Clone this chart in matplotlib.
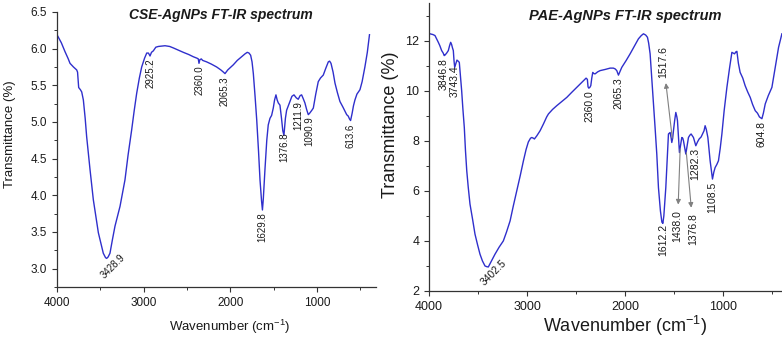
import numpy as np
import matplotlib
matplotlib.use("Agg")
import matplotlib.pyplot as plt
from matplotlib.ticker import MultipleLocator

plt.rcParams['font.family'] = ['Liberation Sans', 'DejaVu Sans']
plt.rcParams['mathtext.fontset'] = 'custom'
plt.rcParams['mathtext.rm'] = 'Liberation Sans'
plt.rcParams['mathtext.it'] = 'Liberation Sans:italic'

# CSE-AgNPs spectrum (wavenumber, transmittance)
cse_wn = [4000, 3950, 3908, 3870, 3850, 3810, 3792, 3773, 3763, 3750, 3730, 3715, 3705, 3696,
          3675, 3658, 3619, 3581, 3523, 3466, 3440, 3427, 3410, 3389, 3360, 3331, 3273, 3216,
          3180, 3139, 3110, 3081, 3050, 3023, 2990, 2965, 2945, 2927, 2910, 2889, 2860, 2831,
          2754, 2700, 2658, 2600, 2543, 2480, 2428, 2385, 2370, 2362, 2352, 2335, 2320, 2274,
          2220, 2158, 2110, 2080, 2062, 2030, 1966, 1920, 1870, 1830, 1805, 1785, 1766, 1750,
          1735, 1715, 1696, 1675, 1658, 1640, 1630, 1620, 1601, 1580, 1563, 1543, 1524, 1505,
          1490, 1474, 1460, 1447, 1428, 1410, 1395, 1382, 1365, 1351, 1313, 1290, 1266, 1240,
          1217, 1195, 1178, 1160, 1140, 1120, 1101, 1085, 1060, 1043, 1015, 986, 960, 928, 900,
          870, 855, 839, 815, 793, 765, 736, 700, 658, 640, 625, 613, 595, 580, 563, 540, 505,
          480, 448, 420, 395]
cse_t = [6.19, 6.08, 5.96, 5.86, 5.80, 5.75, 5.73, 5.71, 5.68, 5.47, 5.44, 5.41, 5.35, 5.30,
         5.05, 4.80, 4.35, 3.94, 3.49, 3.21, 3.15, 3.14, 3.16, 3.21, 3.40, 3.58, 3.85, 4.21,
         4.55, 4.89, 5.15, 5.39, 5.60, 5.75, 5.87, 5.94, 5.94, 5.90, 5.95, 5.97, 6.02, 6.03,
         6.04, 6.03, 6.01, 5.98, 5.95, 5.92, 5.89, 5.87, 5.86, 5.80, 5.85, 5.86, 5.84, 5.82,
         5.79, 5.75, 5.71, 5.68, 5.66, 5.71, 5.78, 5.84, 5.89, 5.93, 5.95, 5.94, 5.91, 5.82,
         5.66, 5.35, 5.03, 4.60, 4.21, 3.92, 3.80, 3.95, 4.35, 4.75, 4.96, 5.05, 5.09, 5.19,
         5.30, 5.37, 5.30, 5.26, 5.23, 5.05, 4.88, 4.82, 5.05, 5.16, 5.28, 5.35, 5.37, 5.33,
         5.31, 5.36, 5.37, 5.32, 5.26, 5.17, 5.10, 5.12, 5.16, 5.19, 5.38, 5.55, 5.60, 5.64, 5.73,
         5.82, 5.83, 5.80, 5.68, 5.53, 5.40, 5.28, 5.20, 5.10, 5.08, 5.04, 5.02, 5.12, 5.22, 5.30,
         5.38, 5.44, 5.55, 5.75, 5.95, 6.19]

# PAE-AgNPs spectrum
pae_wn = [4000, 3990, 3960, 3939, 3920, 3905, 3890, 3871, 3855, 3845, 3837, 3820, 3803, 3790,
          3779, 3770, 3760, 3752, 3745, 3738, 3725, 3715, 3703, 3691, 3680, 3667, 3655, 3640,
          3628, 3615, 3600, 3582, 3555, 3531, 3505, 3480, 3455, 3429, 3410, 3395, 3370, 3350,
          3327, 3285, 3242, 3210, 3173, 3140, 3105, 3070, 3037, 3010, 2987, 2965, 2952, 2935,
          2925, 2900, 2867, 2833, 2800, 2782, 2740, 2697, 2645, 2595, 2545, 2493, 2445, 2398,
          2385, 2378, 2370, 2360, 2350, 2340, 2330, 2318, 2306, 2280, 2255, 2200, 2153, 2120,
          2102, 2085, 2068, 2050, 2034, 1990, 1949, 1905, 1864, 1835, 1813, 1790, 1772, 1760,
          1745, 1728, 1711, 1694, 1677, 1660, 1640, 1625, 1615, 1605, 1585, 1570, 1558, 1541,
          1530, 1524, 1515, 1507, 1495, 1483, 1472, 1466, 1455, 1446, 1435, 1422, 1412, 1405,
          1392, 1381, 1368, 1354, 1340, 1327, 1315, 1303, 1290, 1279, 1262, 1245, 1225, 1211,
          1195, 1184, 1172, 1156, 1145, 1133, 1120, 1109, 1095, 1082, 1065, 1048, 1030, 1013,
          990, 962, 935, 911, 897, 884, 870, 860, 845, 827, 800, 776, 750, 724, 700, 673, 650,
          630, 605, 590, 571, 540, 503, 470, 435, 401]
pae_t = [12.28, 12.27, 12.24, 12.2, 12.05, 11.93, 11.8, 11.6, 11.5, 11.4, 11.42, 11.5, 11.6, 11.8,
         11.93, 11.85, 11.7, 11.6, 11.2, 10.93, 11.1, 11.22, 11.18, 11.13, 10.6, 10.0, 9.3, 8.53,
         7.6, 6.8, 6.15, 5.47, 4.85, 4.27, 3.85, 3.47, 3.2, 3.0, 2.97, 2.96, 3.15, 3.3,
         3.47, 3.75, 4.0, 4.35, 4.8, 5.4, 6.0, 6.6, 7.2, 7.65, 7.95, 8.1, 8.13, 8.1,
         8.07, 8.2, 8.4, 8.67, 8.95, 9.07, 9.25, 9.4, 9.57, 9.73, 9.93, 10.13, 10.32, 10.5,
         10.45, 10.15, 10.1, 10.13, 10.2, 10.5, 10.73, 10.68, 10.67, 10.75, 10.8, 10.85, 10.9, 10.9,
         10.87, 10.8, 10.62, 10.78, 10.93, 11.2, 11.47, 11.78, 12.07, 12.2, 12.27, 12.22, 12.13, 11.9,
         11.47, 10.5, 9.47, 8.5, 7.47, 6.13, 5.2, 4.75, 4.7, 5.0, 6.13, 7.3, 8.27, 8.33,
         8.1, 7.93, 8.1, 8.4, 8.8, 9.13, 8.95, 8.8, 8.1, 7.53, 7.8, 8.13, 8.1, 8.0,
         7.7, 7.47, 7.8, 8.13, 8.22, 8.27, 8.2, 8.13, 7.95, 7.8, 7.95, 8.07, 8.15, 8.27,
         8.4, 8.6, 8.45, 8.13, 7.7, 7.2, 6.8, 6.47, 6.75, 6.93, 7.05, 7.2, 7.7, 8.27,
         9.2, 10.13, 10.9, 11.53, 11.5, 11.47, 11.55, 11.57, 11.1, 10.73, 10.5, 10.2, 9.95, 9.73, 9.45, 9.2, 9.1,
         8.95, 8.88, 9.1, 9.47, 9.8, 10.13, 10.9, 11.73, 12.27]

# peak labels
cse_peaks = [2925.2, 2360.0, 2065.3, 1629.8, 1376.8, 1211.9, 1090.9, 613.6]
pae_peaks = [3846.8, 3743.4, 2360.0, 2065.3, 1612.2, 1282.3, 1108.5, 604.8]
pae_arrow_peaks = ["1517.6", "1438.0", "1376.8"]

line_col = '#2f2fcc'
txt_col = '#1a1a1a'

fig = plt.figure(figsize=(7.82, 3.37), dpi=100)
ax1 = fig.add_axes([0.0729, 0.1484, 0.4079, 0.816])
ax2 = fig.add_axes([0.5486, 0.1365, 0.4514, 0.8546])


def style_axis(ax, tick_size):
    for s in ['top', 'right']:
        ax.spines[s].set_visible(False)
    for s in ['left', 'bottom']:
        ax.spines[s].set_color('#333333')
        ax.spines[s].set_linewidth(0.9)
    ax.tick_params(which='major', direction='out', length=3.5, width=0.8,
                   color='#333333', labelsize=tick_size, labelcolor=txt_col)
    ax.tick_params(which='minor', direction='out', length=2, width=0.7, color='#333333')
    ax.xaxis.set_major_locator(MultipleLocator(1000))
    ax.xaxis.set_minor_locator(MultipleLocator(500))


def peak_y(wn, t, p):
    return np.interp(p, wn[::-1], t[::-1])


# left panel
wn1 = np.array(cse_wn, float)
t1 = np.array(cse_t, float)
ax1.plot(wn1, t1, color=line_col, lw=1.0)
ax1.set_xlim(4000, 320)
ax1.set_ylim(2.75, 6.5)
style_axis(ax1, 8.5)
ax1.yaxis.set_major_locator(MultipleLocator(0.5))
ax1.yaxis.set_minor_locator(MultipleLocator(0.25))
ax1.yaxis.set_major_formatter(matplotlib.ticker.FormatStrFormatter('%.1f'))
ax1.set_xticks([4000, 3000, 2000, 1000])
ax1.set_xlabel('Wavenumber (cm$^{-1}$)', fontsize=9.5, color=txt_col)
ax1.set_ylabel('Transmittance (%)', fontsize=9.5, color=txt_col)
ax1.xaxis.set_label_coords(0.54, -0.112)
ax1.yaxis.set_label_coords(-0.128, 0.556)
ax1.text(0.514, 0.989, 'CSE-AgNPs FT-IR spectrum', transform=ax1.transAxes,
         ha='center', va='center', fontsize=10, fontweight='bold', style='italic', color=txt_col)

for p in cse_peaks:
    ax1.annotate(f'{p:.1f}', xy=(p, peak_y(wn1, t1, p)), xytext=(0, -2),
                 textcoords='offset points', rotation=90, ha='center', va='top',
                 fontsize=7, color=txt_col)
p = 3428.9
ax1.annotate(f'{p:.1f}', xy=(p, peak_y(wn1, t1, p)), xytext=(4.5, -6),
             textcoords='offset points', rotation=45, ha='center', va='center',
             rotation_mode='anchor', fontsize=7, color=txt_col)

# right panel
wn2 = np.array(pae_wn, float)
t2 = np.array(pae_t, float)
ax2.plot(wn2, t2, color=line_col, lw=1.0)
ax2.set_xlim(4000, 400)
ax2.set_ylim(2, 13.5)
style_axis(ax2, 9)
ax2.yaxis.set_major_locator(MultipleLocator(2))
ax2.yaxis.set_minor_locator(MultipleLocator(1))
ax2.set_yticks([2, 4, 6, 8, 10, 12])
ax2.set_xticks([4000, 3000, 2000, 1000])
ax2.set_xlabel('Wavenumber (cm$^{-1}$)', fontsize=13, color=txt_col)
ax2.set_ylabel('Transmittance (%)', fontsize=13, color=txt_col)
ax2.xaxis.set_label_coords(0.555, -0.08)
ax2.yaxis.set_label_coords(-0.085, 0.576)
ax2.text(0.555, 0.955, 'PAE-AgNPs FT-IR spectrum', transform=ax2.transAxes,
         ha='center', va='center', fontsize=10.5, fontweight='bold', style='italic', color=txt_col)

for p in pae_peaks:
    ax2.annotate(f'{p:.1f}', xy=(p, peak_y(wn2, t2, p)), xytext=(0, -2),
                 textcoords='offset points', rotation=90, ha='center', va='top',
                 fontsize=7.5, color=txt_col)
p = 3402.5
ax2.annotate(f'{p:.1f}', xy=(p, peak_y(wn2, t2, p)), xytext=(4.5, -4),
             textcoords='offset points', rotation=45, ha='center', va='center',
             rotation_mode='anchor', fontsize=7.5, color=txt_col)

arrow_offsets = [(-6.5, 44.6, 'bottom'), (-2, -45, 'top'), (5, -44.6, 'top')]
for lab, (dx, dy, va) in zip(pae_arrow_peaks, arrow_offsets):
    p = float(lab)
    ax2.annotate(lab, xy=(p, peak_y(wn2, t2, p)), xytext=(dx, dy),
                 textcoords='offset points', rotation=90, ha='center', va=va,
                 fontsize=7.5, color=txt_col,
                 arrowprops=dict(arrowstyle='<|-', color='#808080', lw=0.8,
                                 mutation_scale=7, shrinkA=2, shrinkB=1))

fig.savefig('out.png', dpi=100)
